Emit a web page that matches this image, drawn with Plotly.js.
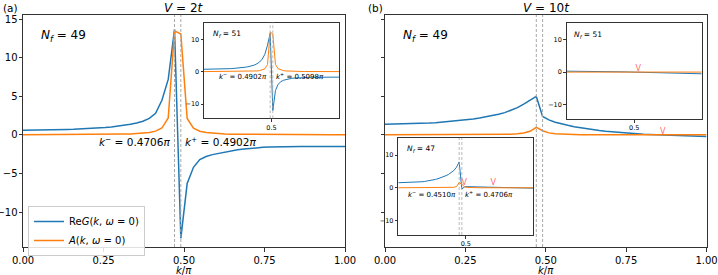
<!DOCTYPE html>
<html><head><meta charset="utf-8">
<script src="https://cdn.plot.ly/plotly-3.0.1.min.js"></script>
<style>html,body{margin:0;padding:0;background:#fff}#chart{width:718px;height:275px}</style>
</head><body><div id="chart"></div>
<script>
// k / pi grid
const kOverPi = [0,0.0196,0.0392,0.0588,0.0784,0.0980,0.1176,0.1373,0.1569,0.1765,0.1961,0.2157,0.2353,0.2549,0.2745,0.2941,0.3137,0.3333,0.3529,0.3725,0.3922,0.4118,0.4314,0.4510,0.4706,0.4902,0.5098,0.5294,0.5490,0.5686,0.5882,0.6078,0.6275,0.6471,0.6667,0.6863,0.7059,0.7255,0.7451,0.7647,0.7843,0.8039,0.8235,0.8431,0.8627,0.8824,0.9020,0.9216,0.9412,0.9608,0.9804,1.0000];

// (a) V = 2t, N_f = 49
const reG_a49 = [0.62,0.62,0.63,0.64,0.65,0.67,0.69,0.71,0.74,0.77,0.81,0.86,0.92,0.98,1.05,1.14,1.25,1.38,1.55,1.78,2.15,2.8,4.5,7.2,13.7,
  -13.4,-6.3,-4.2,-3.2,-2.8,-2.55,-2.38,-2.2,-2.05,-1.93,-1.83,-1.73,-1.65,-1.6,-1.56,-1.53,-1.51,-1.5,-1.49,-1.49,-1.48,-1.48,-1.48,-1.48,-1.48,-1.48,-1.48];
const A_a49 = [0.03,0.03,0.03,0.03,0.03,0.04,0.04,0.04,0.04,0.05,0.05,0.05,0.06,0.07,0.08,0.09,0.11,0.13,0.17,0.23,0.32,0.5,0.9,2.2,13.5,
  13.1,2.15,0.88,0.48,0.31,0.22,0.16,0.13,0.1,0.09,0.08,0.07,0.06,0.05,0.05,0.05,0.04,0.04,0.04,0.04,0.03,0.03,0.03,0.03,0.03,0.03,0.03];
// (a) inset, N_f = 51
const reG_a51 = [0.75,0.75,0.76,0.77,0.78,0.8,0.82,0.84,0.87,0.9,0.94,0.99,1.05,1.12,1.2,1.3,1.43,1.6,1.8,2.05,2.45,3.0,3.9,5.4,8.2,11.8,
  -12.0,-5.8,-3.9,-3.1,-2.65,-2.4,-2.2,-2.06,-1.97,-1.9,-1.85,-1.81,-1.78,-1.76,-1.74,-1.73,-1.72,-1.71,-1.7,-1.7,-1.7,-1.69,-1.69,-1.69,-1.68,-1.68];
const A_a51 = [0.03,0.03,0.03,0.03,0.03,0.03,0.04,0.04,0.04,0.04,0.05,0.05,0.05,0.06,0.07,0.08,0.09,0.11,0.13,0.17,0.23,0.32,0.5,0.9,2.2,12.2,
  11.7,2.2,0.9,0.5,0.32,0.23,0.17,0.13,0.11,0.09,0.08,0.07,0.06,0.05,0.05,0.05,0.04,0.04,0.04,0.04,0.03,0.03,0.03,0.03,0.03,0.03];

// (b) V = 10t, N_f = 49
const reG_b49 = [1.40,1.41,1.42,1.43,1.45,1.47,1.50,1.54,1.59,1.66,1.73,1.81,1.89,1.98,2.08,2.2,2.34,2.5,2.68,2.9,3.18,3.55,4.0,4.5,5.0,
  2.4,1.95,1.65,1.42,1.25,1.08,0.93,0.8,0.68,0.57,0.48,0.4,0.32,0.25,0.19,0.14,0.09,0.05,0.02,0.0,-0.03,-0.06,-0.09,-0.12,-0.15,-0.18,-0.2];
const A_b49 = [0.02,0.02,0.02,0.02,0.02,0.02,0.02,0.02,0.02,0.02,0.02,0.02,0.02,0.02,0.02,0.02,0.03,0.04,0.05,0.07,0.1,0.15,0.25,0.48,1.0,
  0.55,0.27,0.15,0.1,0.07,0.05,0.04,0.03,0.02,0.02,0.02,0.02,0.02,0.02,0.02,0.02,0.02,0.02,0.02,0.02,0.02,0.02,0.02,0.02,0.02,0.02,0.02];
// (b) inset, N_f = 51
const reG_b51 = [0.3,0.3,0.3,0.3,0.3,0.29,0.29,0.28,0.28,0.27,0.26,0.25,0.24,0.23,0.22,0.21,0.2,0.18,0.16,0.14,0.12,0.1,0.08,0.06,0.04,0.03,0.01,
  -0.02,-0.05,-0.08,-0.11,-0.14,-0.17,-0.2,-0.23,-0.26,-0.29,-0.32,-0.35,-0.37,-0.39,-0.41,-0.43,-0.44,-0.45,-0.46,-0.47,-0.48,-0.49,-0.5,-0.5,-0.5];
const A_b51 = [0.02,0.02,0.02,0.02,0.02,0.02,0.02,0.02,0.02,0.02,0.02,0.02,0.02,0.02,0.02,0.02,0.02,0.02,0.02,0.03,0.03,0.03,0.04,0.05,0.06,0.08,
  0.08,0.06,0.05,0.04,0.03,0.03,0.03,0.02,0.02,0.02,0.02,0.02,0.02,0.02,0.02,0.02,0.02,0.02,0.02,0.02,0.02,0.02,0.02,0.02,0.02,0.02];
// (b) inset, N_f = 47
const reG_b47 = [1.55,1.56,1.57,1.59,1.61,1.64,1.68,1.72,1.78,1.85,1.95,2.05,2.2,2.35,2.55,2.78,3.05,3.35,3.7,4.1,4.6,5.3,6.3,7.9,
  -0.4,0.3,0.35,0.33,0.3,0.28,0.25,0.22,0.19,0.16,0.13,0.09,0.04,0.0,-0.03,-0.05,-0.07,-0.08,-0.09,-0.1,-0.1,-0.11,-0.11,-0.12,-0.12,-0.12,-0.12,-0.12];
const A_b47 = [0.02,0.02,0.02,0.02,0.02,0.02,0.02,0.02,0.02,0.02,0.02,0.02,0.02,0.02,0.02,0.03,0.03,0.04,0.05,0.07,0.1,0.15,0.4,1.6,
  1.1,0.3,0.12,0.06,0.04,0.03,0.02,0.02,0.02,0.02,0.02,0.02,0.02,0.02,0.02,0.02,0.02,0.02,0.02,0.02,0.02,0.02,0.02,0.02,0.02,0.02,0.02,0.02];

// Fermi points (k/pi)
const kF_a49 = [0.4706, 0.4902];
const kF_a51 = [0.4902, 0.5098];
const kF_b49 = [0.4706, 0.4902];
const kF_b47 = [0.4510, 0.4706];
// sign-change markers
const zeroMk_b49 = {k:[0.864], y:[0.45]};
const zeroMk_b51 = {k:[0.53], y:[1.1]};
const zeroMk_b47 = {k:[0.489, 0.704], y:[1.4, 1.4]};

const xTicks = [0, 0.25, 0.5, 0.75, 1.0];
const xTickText = ['0.00','0.25','0.50','0.75','1.00'];
const yTicks = [-10, -5, 0, 5, 10, 15];
const insetXTicks = [0.5];
const insetYTicks = [-10, 0, 10];

const BLUE = '#1f77b4', ORANGE = '#ff7f0e', MK = '#ff6b6b';
const W = 718, H = 275;
const xd = (a, b) => [a / W, b / W];
const yd = (top, bot) => [1 - bot / H, 1 - top / H];

function line(x, y, color, ax, w, name, show) {
  return {x: x, y: y, type: 'scatter', mode: 'lines', line: {color: color, width: w},
    xaxis: 'x' + ax, yaxis: 'y' + ax, name: name || '', showlegend: !!show, hoverinfo: 'skip'};
}
function marks(m, ax) {
  return {x: m.k, y: m.y, type: 'scatter', mode: 'text', text: m.k.map(() => 'V'),
    textfont: {color: MK, size: 8, family: 'DejaVu Sans'}, textposition: 'middle center',
    xaxis: 'x' + ax, yaxis: 'y' + ax, showlegend: false, hoverinfo: 'skip'};
}

const traces = [
  line(kOverPi, reG_a49, BLUE, '', 1.5, 'Re<i>G</i>(<i>k</i>, <i>ω</i> = 0)', true),
  line(kOverPi, A_a49, ORANGE, '', 1.5, '<i>A</i>(<i>k</i>, <i>ω</i> = 0)', true),
  line(kOverPi, reG_b49, BLUE, '2', 1.5),
  line(kOverPi, A_b49, ORANGE, '2', 1.5),
  line(kOverPi, reG_a51, BLUE, '3', 1),
  line(kOverPi, A_a51, ORANGE, '3', 1),
  line(kOverPi, reG_b51, BLUE, '4', 1),
  line(kOverPi, A_b51, ORANGE, '4', 1),
  line(kOverPi, reG_b47, BLUE, '5', 1),
  line(kOverPi, A_b47, ORANGE, '5', 1),
  marks(zeroMk_b49, '2'), marks(zeroMk_b51, '4'), marks(zeroMk_b47, '5')
];

const frame = {showline: true, mirror: true, linecolor: '#333', linewidth: 1, showgrid: false, zeroline: false,
  ticks: 'outside', tickcolor: '#333', tickwidth: 1, fixedrange: true, ticklabeloverflow: 'allow'};
function mainX(dom, anchor) {
  return Object.assign({}, frame, {domain: dom, anchor: anchor, range: [0, 1], tickvals: xTicks, ticktext: xTickText,
    ticklen: 3.5, tickfont: {size: 10, color: '#000'}});
}
function mainY(dom, anchor, labels) {
  return Object.assign({}, frame, {domain: dom, anchor: anchor, range: [-14.53, 15.56], tickvals: yTicks,
    ticklen: 3.5, showticklabels: labels, ticklabelstandoff: -1, tickfont: {size: 10, color: '#000'}});
}
function insX(dom, anchor) {
  return Object.assign({}, frame, {domain: dom, anchor: anchor, range: [0, 1], tickvals: insetXTicks, ticktext: ['0.5'],
    ticklen: 2.5, tickfont: {size: 6.5, color: '#000'}});
}
function insY(dom, anchor) {
  return Object.assign({}, frame, {domain: dom, anchor: anchor, range: [-14.4, 15.2], tickvals: insetYTicks,
    ticklen: 2.5, tickfont: {size: 6.5, color: '#000'}});
}

const dA = xd(23, 345), dB = xd(385, 706.5), dY = yd(15, 247);
const layout = {
  width: W, height: H, margin: {l: 0, r: 0, t: 0, b: 0}, paper_bgcolor: '#fff', plot_bgcolor: '#fff',
  font: {family: 'DejaVu Sans', color: '#000', size: 10},
  showlegend: true,
  legend: {x: 28 / W, y: 1 - 206 / H, xanchor: 'left', yanchor: 'top', bgcolor: 'rgba(255,255,255,0.85)',
    bordercolor: '#ccc', borderwidth: 1, font: {size: 10}, tracegroupgap: 0},
  xaxis: mainX(dA, 'y'), yaxis: mainY(dY, 'x', true),
  xaxis2: mainX(dB, 'y2'), yaxis2: mainY(dY, 'x2', false),
  xaxis3: insX(xd(204, 339), 'y3'), yaxis3: insY(yd(22.5, 118.3), 'x3'),
  xaxis4: insX(xd(566.7, 701.7), 'y4'), yaxis4: insY(yd(22.7, 119), 'x4'),
  xaxis5: insX(xd(398.3, 533.3), 'y5'), yaxis5: insY(yd(138, 235), 'x5'),
  shapes: [], annotations: []
};

function vlines(ks, ax, w) {
  ks.forEach(k => layout.shapes.push({type: 'line', xref: 'x' + ax, yref: 'y' + ax + ' domain', x0: k, x1: k, y0: 0, y1: 1,
    line: {color: '#a8a8a8', width: w, dash: '3px,2px'}, layer: 'above'}));
}
vlines(kF_a49, '', 1); vlines(kF_b49, '2', 1); vlines(kF_a51, '3', 0.8); vlines(kF_b47, '5', 0.8);

function ann(text, x, y, xref, yref, size, xanchor) {
  layout.annotations.push({text: text, x: x, y: y, xref: xref, yref: yref, showarrow: false,
    xanchor: xanchor || 'center', yanchor: 'middle', font: {size: size}});
}
ann('(a)', 1 / W, 1 - 8 / H, 'paper', 'paper', 10.5, 'left');
ann('(b)', 366 / W, 1 - 8 / H, 'paper', 'paper', 10.5, 'left');
ann('<i>V</i> = 2<i>t</i>', 184 / W, 1 - 8 / H, 'paper', 'paper', 12);
ann('<i>V</i> = 10<i>t</i>', 546 / W, 1 - 8 / H, 'paper', 'paper', 12);
ann('<i>k</i>/<i>π</i>', 184 / W, 1 - 270 / H, 'paper', 'paper', 10);
ann('<i>k</i>/<i>π</i>', 546 / W, 1 - 270 / H, 'paper', 'paper', 10);
ann('<i>N<sub>f</sub></i> = 49', 0.05, 12.9, 'x', 'y', 12, 'left');
ann('<i>N<sub>f</sub></i> = 49', 0.05, 12.9, 'x2', 'y2', 12, 'left');
ann('<i>k</i><sup>−</sup> = 0.4706<i>π</i>', kF_a49[0] - 0.007, -0.8, 'x', 'y', 10.5, 'right');
ann('<i>k</i><sup>+</sup> = 0.4902<i>π</i>', kF_a49[1] + 0.007, -0.8, 'x', 'y', 10.5, 'left');
ann('<i>N<sub>f</sub></i> = 51', 0.05, 11.5, 'x3', 'y3', 7.5, 'left');
ann('<i>k</i><sup>−</sup> = 0.4902<i>π</i>', kF_a51[0] - 0.01, -1.3, 'x3', 'y3', 7, 'right');
ann('<i>k</i><sup>+</sup> = 0.5098<i>π</i>', kF_a51[1] + 0.01, -1.3, 'x3', 'y3', 7, 'left');
ann('<i>N<sub>f</sub></i> = 51', 0.04, 11.5, 'x4', 'y4', 7.5, 'left');
ann('<i>N<sub>f</sub></i> = 47', 0.05, 11.8, 'x5', 'y5', 7.5, 'left');
ann('<i>k</i><sup>−</sup> = 0.4510<i>π</i>', kF_b47[0] - 0.01, -1.8, 'x5', 'y5', 7, 'right');
ann('<i>k</i><sup>+</sup> = 0.4706<i>π</i>', kF_b47[1] + 0.01, -1.8, 'x5', 'y5', 7, 'left');

Plotly.newPlot('chart', traces, layout, {staticPlot: true, displayModeBar: false});
</script></body></html>
